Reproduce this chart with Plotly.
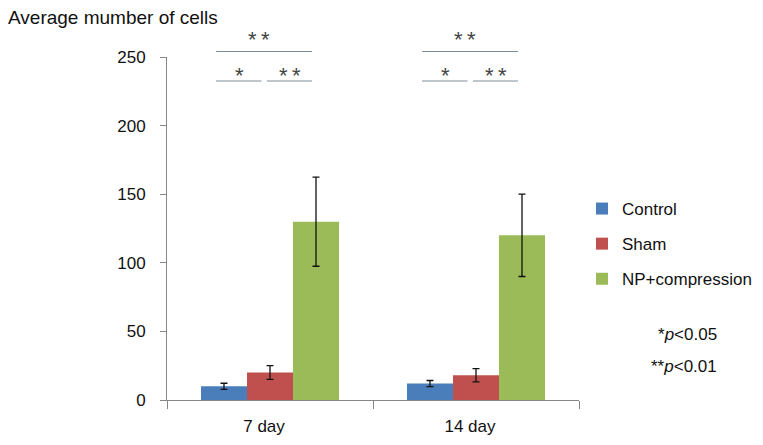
import plotly.graph_objects as go

categories = ["7 day", "14 day"]
series_names = ["Control", "Sham", "NP+compression"]
control = [10, 12]
control_err = [2.2, 2.2]
sham = [20, 18]
sham_err = [5, 4.8]
npc = [130, 120]
npc_err = [32.5, 30]
colors = ["#4a7ebb", "#c0504d", "#9bbb59"]
y_ticks = [0, 50, 100, 150, 200, 250]

FONT = "Liberation Sans, Arial, sans-serif"
YMAX = 250
BARGAP = 0.33

# page body has an 8px margin: figure is laid out in page pixels minus 8
W, H = 755, 437
PL, PR, PT, PB = 159, 571, 49, 392  # plot area in figure pixels

fig = go.Figure()
for name, vals, errs, col in zip(series_names, [control, sham, npc],
                                 [control_err, sham_err, npc_err], colors):
    fig.add_trace(go.Bar(
        x=categories, y=vals, name=name, marker=dict(color=col, line=dict(width=0)),
        error_y=dict(type="data", array=errs, color="#111111", thickness=1.3, width=3.5),
        legendgroup=name,
    ))


def px(xd):
    return (xd + 0.5) / len(categories)


def py(yd):
    return yd / YMAX


# significance bracket decorations (offsets in category units)
shapes = []
annotations = []
line_col = "#7f8c99"
star_font = dict(family=FONT, size=22, color="#444444")
two = "*\u2009*"
for i in range(len(categories)):
    a, b, c, d = i - 0.262, i - 0.041, i - 0.015, i + 0.204
    for x0, x1, yv in [(a, d, 254), (a, b, 232.5), (c, d, 232.5)]:
        shapes.append(dict(type="line", xref="paper", yref="paper",
                           x0=px(x0), x1=px(x1), y0=py(yv), y1=py(yv),
                           line=dict(color=line_col, width=1)))
    annotations.append(dict(xref="paper", yref="paper", x=px(i - 0.052), y=py(263),
                            text=two, showarrow=False, xanchor="center", yanchor="middle",
                            font=star_font))
    annotations.append(dict(xref="paper", yref="paper", x=px(i - 0.15), y=py(236.5),
                            text="*", showarrow=False, xanchor="center", yanchor="middle",
                            font=star_font))
    annotations.append(dict(xref="paper", yref="paper", x=px(i + 0.095), y=py(236.5),
                            text=two, showarrow=False, xanchor="center", yanchor="middle",
                            font=star_font))

annotations.append(dict(xref="paper", yref="paper", x=(719 - 167) / 412, y=(400 - 334) / 343,
                        text="*<i>p</i><0.05", showarrow=False, xanchor="right", yanchor="middle",
                        font=dict(family=FONT, size=17, color="#111111")))
annotations.append(dict(xref="paper", yref="paper", x=(719 - 167) / 412, y=(400 - 366) / 343,
                        text="**<i>p</i><0.01", showarrow=False, xanchor="right", yanchor="middle",
                        font=dict(family=FONT, size=17, color="#111111")))

fig.update_layout(
    width=W, height=H,
    margin=dict(l=PL, r=W - PR, t=PT, b=H - PB, pad=0, autoexpand=False),
    paper_bgcolor="white", plot_bgcolor="white",
    barmode="group", bargap=BARGAP, bargroupgap=0,
    font=dict(family=FONT, size=17, color="#111111"),
    title=dict(text="Average mumber of cells", x=0, xanchor="left",
               y=1 - 9 / H, yanchor="middle",
               font=dict(family=FONT, size=19, color="#111111")),
    showlegend=True,
    legend=dict(x=(582 - 167) / 412, y=(400 - 191) / 343, xanchor="left", yanchor="top",
                tracegroupgap=10, font=dict(family=FONT, size=17, color="#111111"),
                itemwidth=30, bgcolor="rgba(0,0,0,0)"),
    shapes=shapes, annotations=annotations,
)
fig.update_yaxes(range=[0, YMAX], tickvals=y_ticks, showgrid=False, zeroline=False,
                 showline=True, linecolor="#868686", linewidth=1,
                 ticks="outside", ticklen=6, tickcolor="#868686", ticklabelstandoff=11,
                 tickfont=dict(family=FONT, size=17, color="#111111"))
fig.update_xaxes(showgrid=False, showline=True, linecolor="#868686", linewidth=1,
                 ticks="outside", ticklen=8, tickcolor="#868686", tickson="boundaries",
                 ticklabelstandoff=11, ticklabelshift=-6,
                 tickfont=dict(family=FONT, size=17, color="#111111"))

fig.write_html("out.html")
